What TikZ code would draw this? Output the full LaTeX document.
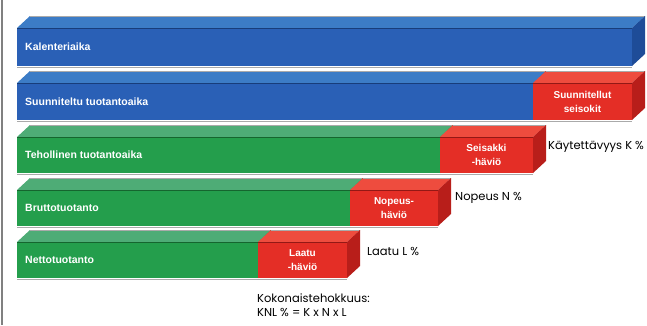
\documentclass[tikz,border=0pt]{standalone}
\usepackage{fontspec}
\setmainfont{Poppins}
\newfontfamily\barfont{Liberation Sans}
\usetikzlibrary{calc}
\definecolor{bluefront}{RGB}{42,96,182}
\definecolor{bluetop}{RGB}{60,124,198}
\definecolor{blueside}{RGB}{30,76,152}
\definecolor{greenfront}{RGB}{36,158,76}
\definecolor{greentop}{RGB}{78,172,118}
\definecolor{greenside}{RGB}{26,126,58}
\definecolor{redfront}{RGB}{228,46,38}
\definecolor{redtop}{RGB}{238,76,62}
\definecolor{redside}{RGB}{184,30,26}
\definecolor{edgegray}{RGB}{170,170,170}
\tikzset{
  frontface/.style={inner sep=0pt, outer sep=0pt, anchor=north west},
  barlabel/.style={text=white, font=\barfont\bfseries\fontsize{10.5}{11}\selectfont, anchor=west, inner sep=0pt},
  redlabel/.style={text=white, font=\barfont\bfseries\fontsize{10}{14}\selectfont, align=center, inner sep=0pt},
  sidetext/.style={font=\fontsize{11.5}{14}\selectfont, anchor=west, inner sep=0pt, text=black},
}
% #1 name, #2 x0, #3 x1, #4 ytop, #5 ybot, #6 colour prefix
\newcommand\mycube[6]{%
  \draw[edgegray, line width=1.5pt] (#2,#5+1.5) -- (#3,#5+1.5);
  \node[frontface, fill=#6front, minimum width=#3-#2, minimum height=#5-#4] (#1) at (#2,#4) {};
  \fill[#6top] (#1.north west) -- ++(13,-12) -- ($(#1.north east)+(13,-12)$) -- (#1.north east) -- cycle;
  \draw[edgegray, line width=0.8pt] ($(#1.north west)+(13,-12)$) -- ($(#1.north east)+(13,-12)$);
  \fill[#6side] (#1.north east) -- ++(13,-12) -- ($(#1.south east)+(13,-12)$) -- (#1.south east) -- cycle;
  \draw[#6side!80!black, line width=0.4pt] (#1.north west) -- (#1.north east);
}
\begin{document}
\begin{tikzpicture}[x=1pt,y=-1pt]
\useasboundingbox[fill=white] (0,0) rectangle (647,325);
\draw[gray, line width=1.5pt] (2,0) -- (2,325);
% bar 1
\mycube{b1}{17}{632}{28}{66}{blue}
\node[barlabel] (t1) at ([xshift=8pt]b1.west) {Kalenteriaika};
% bar 2
\mycube{b2}{17}{533}{83}{120}{blue}
\mycube{r2}{533}{632}{83}{120}{red}
\node[barlabel] (t2) at ([xshift=8pt]b2.west) {Suunniteltu tuotantoaika};
\node[redlabel] (q2) at (r2.center) {Suunnitellut\\seisokit};
% bar 3
\mycube{b3}{17}{440}{137}{173}{green}
\mycube{r3}{440}{533}{137}{173}{red}
\node[barlabel] (t3) at ([xshift=8pt]b3.west) {Tehollinen tuotantoaika};
\node[redlabel] (q3) at (r3.center) {Seisakki\\-häviö};
% bar 4
\mycube{b4}{17}{350}{190}{226}{green}
\mycube{r4}{350}{438}{190}{226}{red}
\node[barlabel] (t4) at ([xshift=8pt]b4.west) {Bruttotuotanto};
\node[redlabel] (q4) at (r4.center) {Nopeus-\\häviö};
% bar 5
\mycube{b5}{17}{258}{242}{278}{green}
\mycube{r5}{258}{347}{242}{278}{red}
\node[barlabel] (t5) at ([xshift=8pt]b5.west) {Nettotuotanto};
\node[redlabel] (q5) at (r5.center) {Laatu\\-häviö};
% side texts
\node[sidetext] (k) at (548,147) {Käytettävyys K \%};
\node[sidetext] (n) at (455,198) {Nopeus N \%};
\node[sidetext] (l) at (367,251) {Laatu L \%};
\node[sidetext, align=left, anchor=north west] (knl) at (257,294) {Kokonaistehokkuus:\\KNL \% = K x N x L};
\end{tikzpicture}
\end{document}
